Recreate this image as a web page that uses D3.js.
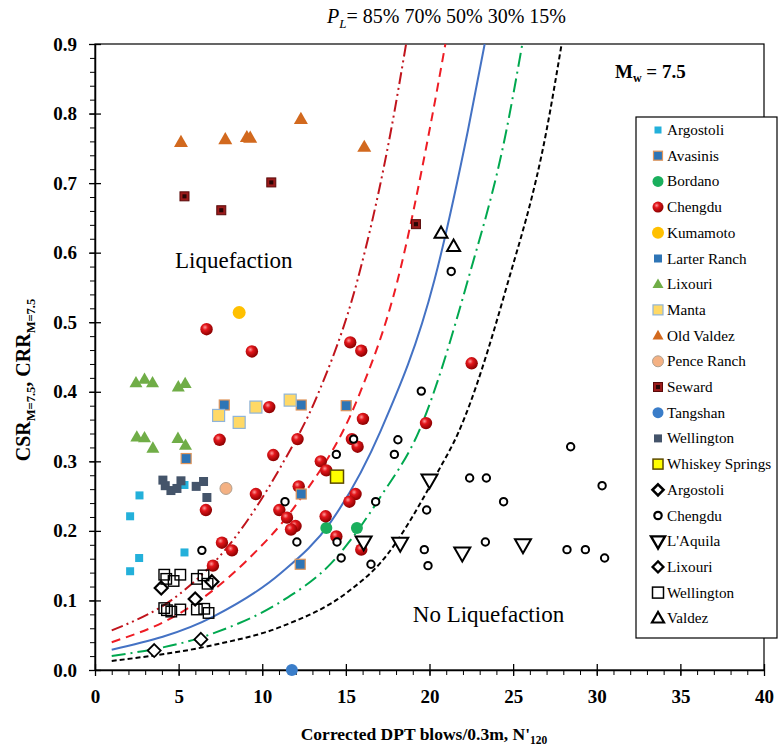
<!DOCTYPE html>
<html>
<head>
<meta charset="utf-8">
<script src="https://cdn.jsdelivr.net/npm/d3@7"></script>
<style>
  body { margin: 0; background: #fff; }
  svg { display: block; font-family: "Liberation Serif", "Times New Roman", serif; }
</style>
</head>
<body>
<div id="chart"></div>
<script>
// data: [N'120, CSR/CRR]
var argostoli = [[2.66,0.251],[2.1,0.221],[5.35,0.266],[2.64,0.161],[2.1,0.142],[5.35,0.169]];
var avasinis = [[7.73,0.381],[12.33,0.381],[5.45,0.304],[12.27,0.152]];
var bordano = [[13.83,0.204],[15.66,0.204]];
var chengdu = [[6.67,0.490],[9.38,0.458],[15.26,0.471],[15.92,0.459],[22.52,0.441],[10.42,0.378],
  [16.02,0.361],[7.45,0.331],[12.11,0.332],[15.36,0.332],[15.7,0.321],[19.79,0.355],[10.66,0.309],
  [13.5,0.300],[13.83,0.287],[9.62,0.253],[12.18,0.264],[15.58,0.253],[15.21,0.242],[6.63,0.230],
  [11.02,0.230],[11.48,0.219],[11.99,0.207],[11.72,0.202],[13.79,0.221],[14.43,0.192],[15.92,0.173],
  [7.59,0.183],[8.19,0.172],[7.05,0.150]];
var kumamoto = [[8.62,0.514]];
var larterRanch = [[15.02,0.380],[12.33,0.253]];
var lixouri = [[2.45,0.413],[2.96,0.418],[3.44,0.413],[4.98,0.407],[5.39,0.412],
  [2.5,0.335],[2.96,0.334],[3.46,0.319],[4.96,0.333],[5.41,0.323]];
var manta = [[7.39,0.366],[8.62,0.356],[9.62,0.378],[11.67,0.388]];
var oldValdez = [[5.14,0.759],[7.79,0.763],[9.08,0.766],[9.28,0.765],[12.31,0.792],[16.1,0.752]];
var penceRanch = [[7.83,0.261]];
var seward = [[5.35,0.681],[7.55,0.661],[10.54,0.701],[19.19,0.641]];
var tangshan = [[11.77,0.0]];
var wellington = [[4.06,0.273],[4.2,0.265],[4.54,0.258],[4.9,0.261],[5.14,0.272],[6.05,0.264],[6.49,0.271],[6.69,0.248]];
var whiskeySprings = [[14.47,0.278]];
// non-liquefied (open symbols)
var argostoliNo = [[3.96,0.118],[6.99,0.127],[5.99,0.102]];
var chengduNo = [[14.43,0.310],[15.46,0.332],[18.11,0.331],[17.9,0.310],[19.51,0.401],[21.3,0.573],
  [11.36,0.242],[16.78,0.242],[19.83,0.230],[22.4,0.276],[23.4,0.276],[28.44,0.321],[30.32,0.265],
  [24.43,0.242],[23.34,0.184],[19.69,0.173],[19.91,0.150],[28.22,0.173],[29.32,0.173],[30.47,0.161],
  [6.39,0.172],[12.07,0.184],[14.47,0.184],[14.72,0.161],[16.5,0.152]];
var laquila = [[16.06,0.184],[18.25,0.182],[20.0,0.273],[21.96,0.168],[25.59,0.180]];
var lixouriNo = [[6.33,0.044],[3.54,0.028]];
var wellingtonNo = [[4.14,0.137],[4.26,0.131],[4.7,0.128],[5.1,0.137],[6.09,0.131],[6.49,0.136],[6.73,0.124],
  [4.14,0.089],[4.3,0.086],[4.56,0.084],[5.1,0.087],[6.09,0.087],[6.53,0.088],[6.79,0.082]];
var valdezNo = [[20.69,0.628],[21.44,0.609]];

// probability curves
var pl85 = [[1,0.057],[5.1,0.110],[8.1,0.182],[11.1,0.292],[13.3,0.395],[15.7,0.561],[17.7,0.776],[18.6,0.9]];
var pl70 = [[1,0.040],[5.1,0.082],[9.1,0.158],[12.1,0.24],[15.7,0.390],[18.1,0.561],[20.0,0.776],[20.95,0.9]];
var pl50 = [[1,0.029],[7.1,0.077],[11.1,0.139],[14.1,0.213],[17.1,0.345],[20.3,0.561],[22.3,0.776],[23.3,0.9]];
var pl30 = [[1,0.020],[7.1,0.053],[11.1,0.098],[14.1,0.153],[17.1,0.25],[19.4,0.345],[22.3,0.561],[24.6,0.776],[25.55,0.9]];
var pl15 = [[1,0.013],[7.1,0.036],[11.1,0.062],[15.1,0.112],[17.1,0.155],[20.5,0.285],[21.7,0.34],[24.6,0.55],[27.0,0.776],[27.9,0.9]];

var xTicks = [0,5,10,15,20,25,30,35,40];
var yTicks = [0,0.1,0.2,0.3,0.4,0.5,0.6,0.7,0.8,0.9];

var margin = {top: 44, right: 20, bottom: 78, left: 95},
    width = 784 - margin.left - margin.right,
    height = 748 - margin.top - margin.bottom;

var svg = d3.select("#chart").append("svg")
    .attr("width", 784).attr("height", 748);

var defs = svg.append("defs");
var grad = defs.append("radialGradient").attr("id", "ball")
    .attr("cx", "38%").attr("cy", "35%").attr("r", "65%");
grad.append("stop").attr("offset", "0%").attr("stop-color", "#ff9a9a");
grad.append("stop").attr("offset", "35%").attr("stop-color", "#e3161b");
grad.append("stop").attr("offset", "100%").attr("stop-color", "#8c0000");

var g = svg.append("g")
    .attr("transform", "translate(" + margin.left + "," + margin.top + ")");

var x = d3.scaleLinear().domain([0, 40]).range([0, width]);
var y = d3.scaleLinear().domain([0, 0.9]).range([height, 0]);

// frame
g.append("rect").attr("width", width).attr("height", height)
    .attr("fill", "none").attr("stroke", "#000").attr("stroke-width", 1.2);

// minor ticks
g.append("g").attr("transform", "translate(0," + height + ")")
    .call(d3.axisBottom(x).tickValues(d3.range(0, 41, 1)).tickSize(5).tickFormat(""))
    .call(function(a) { a.select(".domain").remove(); });
g.append("g")
    .call(d3.axisLeft(y).tickValues(d3.range(0, 0.9001, 0.02)).tickSize(5).tickFormat(""))
    .call(function(a) { a.select(".domain").remove(); });

// major axes
var xAxis = g.append("g").attr("transform", "translate(0," + height + ")")
    .call(d3.axisBottom(x).tickValues(xTicks).tickSize(6).tickSizeOuter(0).tickPadding(14));
xAxis.selectAll(".tick line").attr("y1", -6);
var yAxis = g.append("g")
    .call(d3.axisLeft(y).tickValues(yTicks).tickSize(6).tickSizeOuter(0).tickPadding(12).tickFormat(d3.format(".1f")));
yAxis.selectAll(".tick line").attr("x1", 6);
[xAxis, yAxis].forEach(function(a) {
  a.select(".domain").attr("stroke-width", 1.5);
  a.selectAll(".tick line").attr("stroke-width", 1.3);
  a.selectAll("text").attr("font-family", "Liberation Serif, serif")
    .attr("font-size", 19).attr("font-weight", "bold").attr("fill", "#000");
});
svg.selectAll(".tick line").attr("stroke", "#000");

// curves
var line = d3.line().x(function(d) { return x(d[0]); }).y(function(d) { return y(d[1]); })
    .curve(d3.curveMonotoneX);
var curves = [
  {data: pl85, color: "#c0141c", dash: "12,4,2,4,2,4"},
  {data: pl70, color: "#ee1c24", dash: "9,6"},
  {data: pl50, color: "#4472c4", dash: null},
  {data: pl30, color: "#00a84f", dash: "14,5,2,5"},
  {data: pl15, color: "#000000", dash: "5,3"}
];
curves.forEach(function(c) {
  g.append("path").datum(c.data).attr("d", line)
    .attr("fill", "none").attr("stroke", c.color).attr("stroke-width", 2)
    .attr("stroke-dasharray", c.dash);
});

// marker drawing
function drawSet(data, drawFn) {
  data.forEach(function(d) { drawFn(g, x(d[0]), y(d[1])); });
}
function square(size, fill, stroke, sw) {
  return function(p, cx, cy) {
    p.append("rect").attr("x", cx - size / 2).attr("y", cy - size / 2)
      .attr("width", size).attr("height", size)
      .attr("fill", fill).attr("stroke", stroke || "none").attr("stroke-width", sw || 0);
  };
}
function circle(r, fill, stroke, sw) {
  return function(p, cx, cy) {
    p.append("circle").attr("cx", cx).attr("cy", cy).attr("r", r)
      .attr("fill", fill).attr("stroke", stroke || "none").attr("stroke-width", sw || 0);
  };
}
function tri(size, fill, stroke, sw, down) {
  return function(p, cx, cy) {
    var h = size * 0.87, s = down ? -1 : 1;
    var pts = [[cx, cy - s * h * 0.6], [cx - size / 2, cy + s * h * 0.4], [cx + size / 2, cy + s * h * 0.4]];
    p.append("polygon").attr("points", pts.map(function(q) { return q.join(","); }).join(" "))
      .attr("fill", fill).attr("stroke", stroke || "none").attr("stroke-width", sw || 0)
      .attr("stroke-linejoin", "miter");
  };
}
function diamond(size, sw) {
  return function(p, cx, cy) {
    var h = size / 2;
    p.append("polygon").attr("points", [[cx, cy - h], [cx + h, cy], [cx, cy + h], [cx - h, cy]].map(function(q) { return q.join(","); }).join(" "))
      .attr("fill", "#fff").attr("stroke", "#000").attr("stroke-width", sw);
  };
}
function sewardMark(size) {
  return function(p, cx, cy) {
    square(size, "#9b1b1b", "#5a0a0a", 1)(p, cx, cy);
    square(size * 0.45, "#2a0505")(p, cx, cy);
  };
}
function ball(r) {
  return function(p, cx, cy) {
    p.append("circle").attr("cx", cx).attr("cy", cy).attr("r", r).attr("fill", "url(#ball)");
  };
}

var series = [
  {name: "Argostoli", data: argostoli, fn: square(8, "#23b0da"), lg: square(7, "#23b0da")},
  {name: "Avasinis", data: avasinis, fn: square(10, "#2e75b6", "#e0955a", 1.2), lg: square(9, "#2e75b6", "#e0955a", 1.2)},
  {name: "Bordano", data: bordano, fn: circle(6, "#1aaf5d"), lg: circle(5.5, "#1aaf5d")},
  {name: "Chengdu", data: chengdu, fn: ball(6.2), lg: ball(5.5)},
  {name: "Kumamoto", data: kumamoto, fn: circle(6.5, "#ffc000"), lg: circle(6, "#ffc000")},
  {name: "Larter Ranch", data: larterRanch, fn: square(10, "#2e75b6", "#e0955a", 1.2), lg: square(8, "#2e75b6")},
  {name: "Lixouri", data: lixouri, fn: tri(13, "#70ad47"), lg: tri(11, "#70ad47")},
  {name: "Manta", data: manta, fn: square(12, "#ffd966", "#8fb4d9", 1.2), lg: square(10, "#ffd966", "#8fb4d9", 1.2)},
  {name: "Old Valdez", data: oldValdez, fn: tri(14, "#d2691e"), lg: tri(11, "#d2691e")},
  {name: "Pence Ranch", data: penceRanch, fn: circle(6, "#f4b183", "#b0a090", 1), lg: circle(5.5, "#f4b183", "#b0a090", 1)},
  {name: "Seward", data: seward, fn: sewardMark(9), lg: sewardMark(9)},
  {name: "Tangshan", data: tangshan, fn: circle(6, "#3a7dc9"), lg: circle(5.5, "#3a7dc9")},
  {name: "Wellington", data: wellington, fn: square(9, "#44546a"), lg: square(8, "#44546a")},
  {name: "Whiskey Springs", data: whiskeySprings, fn: square(13, "#ffff00", "#5c4a00", 1.5), lg: square(10, "#ffff00", "#5c4a00", 1.5)},
  {name: "Argostoli", data: argostoliNo, fn: diamond(13, 2.2), lg: diamond(11, 2.6)},
  {name: "Chengdu", data: chengduNo, fn: circle(3.7, "#fff", "#000", 2), lg: circle(3.7, "#fff", "#000", 2.2)},
  {name: "L'Aquila", data: laquila, fn: tri(16, "#fff", "#000", 2, true), lg: tri(14, "#fff", "#000", 2.4, true)},
  {name: "Lixouri", data: lixouriNo, fn: diamond(13, 1.8), lg: diamond(11, 2.2)},
  {name: "Wellington", data: wellingtonNo, fn: square(10.5, "none", "#000", 1.4), lg: square(11, "#fff", "#000", 1.5)},
  {name: "Valdez", data: valdezNo, fn: tri(13, "#fff", "#000", 2), lg: tri(12, "#fff", "#000", 2.2)}
];

// draw filled points first, open symbols over them
series.forEach(function(s) { drawSet(s.data, s.fn); });

// region labels
g.append("text").attr("x", x(8.3)).attr("y", y(0.578)).attr("text-anchor", "middle")
    .attr("font-size", 23).text("Liquefaction");
g.append("text").attr("x", x(19)).attr("y", y(0.069)).attr("font-size", 23).text("No Liquefaction");

// Mw label
var mw = svg.append("text").attr("x", 615).attr("y", 78).attr("font-size", 19).attr("font-weight", "bold");
mw.append("tspan").text("M");
mw.append("tspan").attr("font-size", 12).attr("dy", 4).text("w");
mw.append("tspan").attr("dy", -4).text(" = 7.5");

// PL label
var pl = svg.append("text").attr("x", 327).attr("y", 23).attr("font-size", 20);
pl.append("tspan").attr("font-style", "italic").text("P");
pl.append("tspan").attr("font-style", "italic").attr("font-size", 13).attr("dy", 5).text("L");
pl.append("tspan").attr("dy", -5).text("= 85% 70% 50% 30% 15%");

// axis titles
var xt = svg.append("text").attr("x", 424).attr("y", 740).attr("text-anchor", "middle")
    .attr("font-size", 17.5).attr("font-weight", "bold");
xt.append("tspan").text("Corrected DPT blows/0.3m, N'");
xt.append("tspan").attr("font-size", 11.5).attr("dy", 4).text("120");

var yt = svg.append("text").attr("transform", "translate(30,380) rotate(-90)")
    .attr("text-anchor", "middle").attr("font-size", 20).attr("font-weight", "bold");
yt.append("tspan").text("CSR");
yt.append("tspan").attr("font-size", 12.5).attr("dy", 5).text("M=7.5");
yt.append("tspan").attr("dy", -5).text(", CRR");
yt.append("tspan").attr("font-size", 12.5).attr("dy", 5).text("M=7.5");

// legend
var lg = svg.append("g").attr("transform", "translate(636,117)");
lg.append("rect").attr("width", 141).attr("height", 521)
    .attr("fill", "#fff").attr("stroke", "#000").attr("stroke-width", 1.2);
series.forEach(function(s, i) {
  var cy = 13 + i * 25.7;
  s.lg(lg, 22, cy);
  lg.append("text").attr("x", 31).attr("y", cy + 5).attr("font-size", 15.2).text(s.name);
});
</script>
</body>
</html>
